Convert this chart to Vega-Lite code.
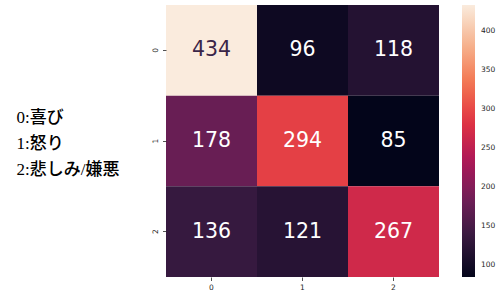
{
  "$schema": "https://vega.github.io/schema/vega-lite/v6.json",
  "width": 273,
  "height": 272,
  "autosize": {"type": "none"},
  "padding": {"left": 166, "top": 5, "right": 57, "bottom": 16},
  "background": "white",
  "data": {
    "values": [
      {"actual": "0", "pred": "0", "count": 434},
      {"actual": "0", "pred": "1", "count": 96},
      {"actual": "0", "pred": "2", "count": 118},
      {"actual": "1", "pred": "0", "count": 178},
      {"actual": "1", "pred": "1", "count": 294},
      {"actual": "1", "pred": "2", "count": 85},
      {"actual": "2", "pred": "0", "count": 136},
      {"actual": "2", "pred": "1", "count": 121},
      {"actual": "2", "pred": "2", "count": 267}
    ]
  },
  "encoding": {
    "x": {
      "field": "pred",
      "type": "ordinal",
      "scale": {"paddingInner": 0, "paddingOuter": 0},
      "axis": {
        "title": null,
        "labelAngle": 0,
        "labelFont": "DejaVu Sans",
        "labelFontSize": 7.5,
        "labelColor": "#262626",
        "labelPadding": 3,
        "tickSize": 3.5,
        "tickColor": "#262626",
        "tickWidth": 0.8,
        "domain": false,
        "grid": false
      }
    },
    "y": {
      "field": "actual",
      "type": "ordinal",
      "scale": {"paddingInner": 0, "paddingOuter": 0},
      "axis": {
        "title": ["0:喜び", "1:怒り", "2:悲しみ/嫌悪"],
        "titleAngle": 0,
        "titleAlign": "left",
        "titleBaseline": "middle",
        "titleX": -150,
        "titleY": 112,
        "titleFont": "'Liberation Serif', 'Noto Sans CJK JP'",
        "titleFontSize": 17,
        "titleFontWeight": 500,
        "titleColor": "#000000",
        "titleLineHeight": 26,
        "labelAngle": 270,
        "labelAlign": "center",
        "labelBaseline": "bottom",
        "labelFont": "DejaVu Sans",
        "labelFontSize": 7.5,
        "labelColor": "#262626",
        "labelPadding": 3,
        "tickSize": 3.5,
        "tickColor": "#262626",
        "tickWidth": 0.8,
        "domain": false,
        "grid": false
      }
    }
  },
  "layer": [
    {
      "mark": {"type": "rect"},
      "encoding": {
        "color": {
          "field": "count",
          "type": "quantitative",
          "scale": {
            "domain": [85, 134.857, 184.714, 234.571, 284.429, 334.286, 384.143, 434],
            "range": ["#03051a", "#35193e", "#701f57", "#ad1759", "#e13342", "#f37651", "#f6b48f", "#faebdd"],
            "interpolate": "rgb"
          },
          "legend": {
            "title": null,
            "orient": "right",
            "direction": "vertical",
            "offset": 23,
            "padding": 0,
            "gradientLength": 272,
            "gradientThickness": 13,
            "gradientStrokeWidth": 0,
            "values": [100, 150, 200, 250, 300, 350, 400],
            "labelFont": "DejaVu Sans",
            "labelFontSize": 7.5,
            "labelColor": "#262626",
            "labelOffset": 6,
            "labelOverlap": false
          }
        }
      }
    },
    {
      "mark": {"type": "text", "font": "DejaVu Sans", "fontSize": 20.5},
      "encoding": {
        "text": {"field": "count", "type": "quantitative"},
        "color": {
          "condition": {"test": "datum.count > 400", "value": "#3a2548"},
          "value": "#ffffff"
        }
      }
    }
  ],
  "config": {"view": {"stroke": null}}
}
